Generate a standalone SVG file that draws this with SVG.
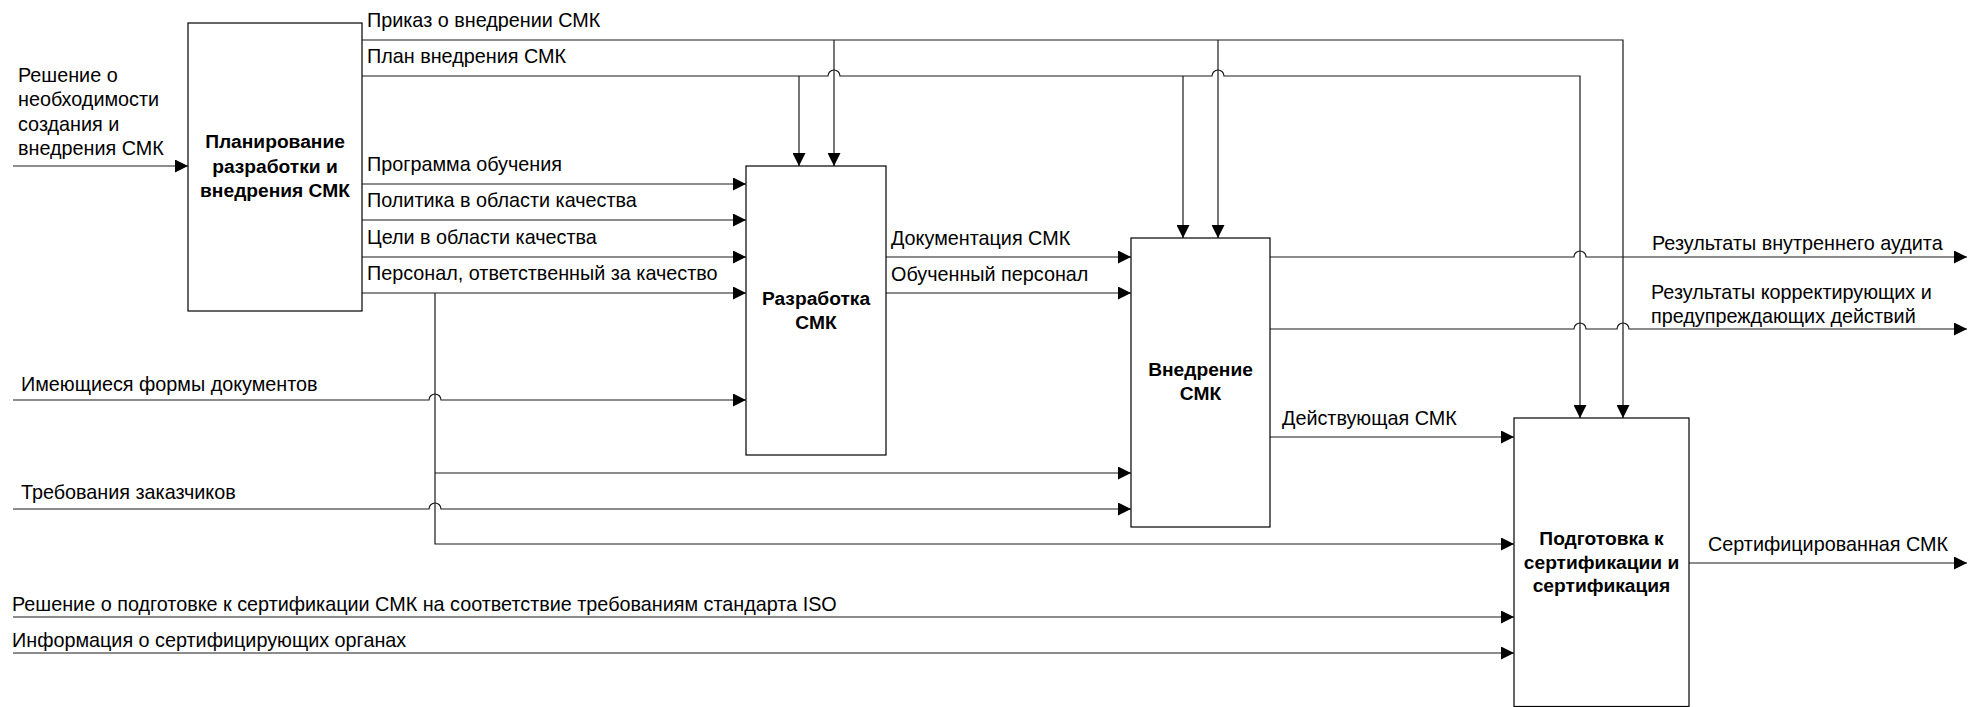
<svg xmlns="http://www.w3.org/2000/svg" width="1986" height="707" viewBox="0 0 1986 707">
  <style>
    .box { fill: #ffffff; stroke: #000000; stroke-width: 1.2; }
    .title { font-family: "Liberation Sans", Arial, sans-serif; font-size: 19.2px; font-weight: bold; fill: #000000; text-anchor: middle; }
    .lbl { font-family: "Liberation Sans", Arial, sans-serif; font-size: 19.8px; fill: #000000; }
    .wire { fill: none; stroke: #1a1a1a; stroke-width: 1.2; }
    .arr { marker-end: url(#head); }
  </style>
  <defs>
    <marker id="head" markerUnits="userSpaceOnUse" markerWidth="13" markerHeight="13" refX="13" refY="6.5" orient="auto">
      <path d="M0,0 L13,6.5 L0,13 Z" fill="#000000"/>
    </marker>
  </defs>

  <rect width="1986" height="707" fill="#ffffff"/>

  <!-- connectors -->
  <g id="connectors">
    <!-- external input to planning -->
    <path class="wire arr" d="M13,166 H188"/>
    <!-- order on implementation: to development, implementation, certification -->
    <path class="wire arr" d="M362,40 H1623 V418"/>
    <path class="wire arr" d="M834,40 V166"/>
    <path class="wire arr" d="M1218,40 V238"/>
    <!-- implementation plan -->
    <path class="wire arr" d="M362,76 H828 A6,6 0 0 1 840,76 H1212 A6,6 0 0 1 1224,76 H1580 V418"/>
    <path class="wire arr" d="M799,76 V166"/>
    <path class="wire arr" d="M1183,76 V238"/>
    <!-- planning outputs into development -->
    <path class="wire arr" d="M362,184 H746"/>
    <path class="wire arr" d="M362,220 H746"/>
    <path class="wire arr" d="M362,257 H746"/>
    <path class="wire arr" d="M362,293 H746"/>
    <!-- responsible staff branches -->
    <path class="wire arr" d="M435,293 V544 H1514"/>
    <path class="wire arr" d="M435,473 H1131"/>
    <!-- external inputs -->
    <path class="wire arr" d="M13,400 H429 A6,6 0 0 1 441,400 H746"/>
    <path class="wire arr" d="M13,509 H429 A6,6 0 0 1 441,509 H1131"/>
    <path class="wire arr" d="M13,617 H1514"/>
    <path class="wire arr" d="M13,653 H1514"/>
    <!-- development outputs -->
    <path class="wire arr" d="M886,257 H1131"/>
    <path class="wire arr" d="M886,293 H1131"/>
    <!-- implementation outputs -->
    <path class="wire arr" d="M1270,257 H1574 A6,6 0 0 1 1586,257 H1967"/>
    <path class="wire arr" d="M1270,329 H1574 A6,6 0 0 1 1586,329 H1617 A6,6 0 0 1 1629,329 H1967"/>
    <path class="wire arr" d="M1270,437 H1514"/>
    <!-- certification output -->
    <path class="wire arr" d="M1689,563 H1967"/>

    <!-- connector labels -->
    <text class="lbl" x="18" y="82">Решение о</text>
    <text class="lbl" x="18" y="106">необходимости</text>
    <text class="lbl" x="18" y="130.5">создания и</text>
    <text class="lbl" x="18" y="155">внедрения СМК</text>

    <text class="lbl" x="367" y="27">Приказ о внедрении СМК</text>
    <text class="lbl" x="367" y="63">План внедрения СМК</text>
    <text class="lbl" x="367" y="171">Программа обучения</text>
    <text class="lbl" x="367" y="207">Политика в области качества</text>
    <text class="lbl" x="367" y="244">Цели в области качества</text>
    <text class="lbl" x="367" y="280">Персонал, ответственный за качество</text>

    <text class="lbl" x="21" y="390.5">Имеющиеся формы документов</text>
    <text class="lbl" x="21" y="499">Требования заказчиков</text>
    <text class="lbl" x="12" y="611">Решение о подготовке к сертификации СМК на соответствие требованиям стандарта ISO</text>
    <text class="lbl" x="12" y="647">Информация о сертифицирующих органах</text>

    <text class="lbl" x="891" y="245">Документация СМК</text>
    <text class="lbl" x="891" y="281">Обученный персонал</text>

    <text class="lbl" x="1652" y="250">Результаты внутреннего аудита</text>
    <text class="lbl" x="1651" y="299">Результаты корректирующих и</text>
    <text class="lbl" x="1651" y="323">предупреждающих действий</text>
    <text class="lbl" x="1282" y="425">Действующая СМК</text>
    <text class="lbl" x="1708" y="551">Сертифицированная СМК</text>
  </g>

  <!-- activity boxes -->
  <g id="node-planning">
    <rect class="box" x="188" y="23" width="174" height="288"/>
    <text class="title" x="275" y="148">Планирование</text>
    <text class="title" x="275" y="172.5">разработки и</text>
    <text class="title" x="275" y="197">внедрения СМК</text>
  </g>

  <g id="node-development">
    <rect class="box" x="746" y="166" width="140" height="289"/>
    <text class="title" x="816" y="305">Разработка</text>
    <text class="title" x="816" y="329">СМК</text>
  </g>

  <g id="node-implementation">
    <rect class="box" x="1131" y="238" width="139" height="289"/>
    <text class="title" x="1200.5" y="376">Внедрение</text>
    <text class="title" x="1200.5" y="400">СМК</text>
  </g>

  <g id="node-certification">
    <rect class="box" x="1514" y="418" width="175" height="288.5"/>
    <text class="title" x="1601.5" y="545">Подготовка к</text>
    <text class="title" x="1601.5" y="568.5">сертификации и</text>
    <text class="title" x="1601.5" y="592">сертификация</text>
  </g>
</svg>
